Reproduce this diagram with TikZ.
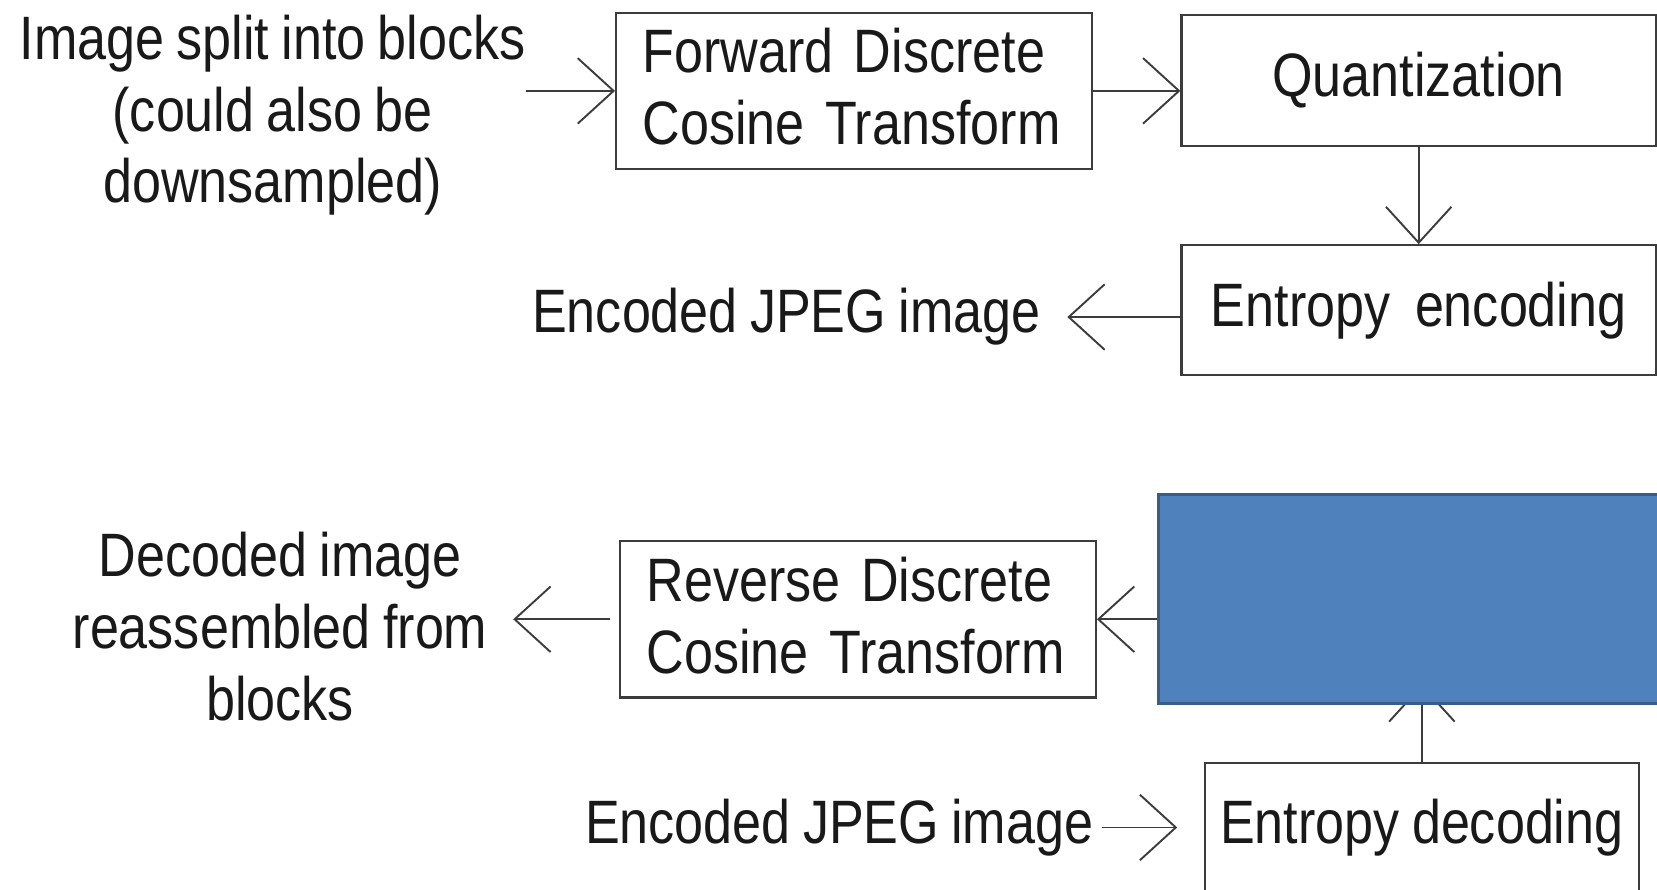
\documentclass[tikz,border=0pt]{standalone}
\usepackage{fontspec}
\setmainfont{Liberation Sans}[FakeStretch=0.85,WordSpace=0.85]
\usetikzlibrary{arrows.meta,backgrounds}

\definecolor{boxblue}{RGB}{79,129,189}
\definecolor{boxblueline}{RGB}{56,93,138}
\definecolor{linegray}{RGB}{60,60,60}

\begin{document}
\begin{tikzpicture}[x=0.5pt,y=-0.5pt]

  \tikzset{VertexStyle/.style = {rectangle, draw = linegray, line width = 1pt,
                                 text = black!90, inner xsep = 12.5pt, inner ysep = 0pt,
                                 minimum width = 225pt, minimum height = 74pt,
                                 font = \fontsize{29pt}{34pt}\selectfont},
           TextStyle/.style   = {inner sep = 0pt, align = center, text = black!90,
                                 font = \fontsize{29pt}{34pt}\selectfont},
           FillStyle/.style   = {rectangle, draw = boxblueline, fill = boxblue,
                                 line width = 1.5pt, minimum width = 270pt,
                                 minimum height = 99pt}}

  \useasboundingbox (0,0) rectangle (1568,842);
  \clip (0,0) rectangle (1568,842);

%%% encoder (top) 

   \node[TextStyle] (IN) at (258,109) {Image split into blocks\\(could also be\\downsampled)};
   \node[VertexStyle, text width = 200pt, align = left, text depth = 38pt] (FDCT) at (808,86) {Forward Discrete\\Cosine Transform};
   \node[VertexStyle, minimum width = 224.5pt, minimum height = 62pt] (Q) at (1342.5,76) {Quantization};
   \node[VertexStyle, minimum width = 224.5pt, minimum height = 61.5pt] (EE) at (1342.5,293.5) {Entropy\ \ encoding};
   \node[TextStyle, anchor = east] (OUT) at (985,300) {Encoded JPEG image};

%%% decoder (bottom)

   \node[FillStyle] (B) at (1366,567) {};
   \node[VertexStyle, text width = 200pt, align = left, text depth = 38pt] (RDCT) at (812,586) {Reverse Discrete\\Cosine Transform};
   \node[TextStyle] (DEC) at (265,593) {Decoded image\\reassembled from\\blocks};
   \node[VertexStyle, anchor = north, inner xsep = 5pt, minimum width = 205.5pt, minimum height = 0pt,
         text height = 38pt, text depth = 52pt] (ED) at (1345.5,721) {Entropy decoding};
   \node[TextStyle, anchor = east] (IN2) at (1035,783) {Encoded JPEG image};

  \tikzset{EdgeStyle/.style = {draw = linegray, line width = 0.9pt,
                               -{Straight Barb[length = 17pt, width = 31pt]}}}

   \draw[EdgeStyle] (IN.east |- FDCT.west) -- (FDCT.west);
   \draw[EdgeStyle] (FDCT.east) -- (FDCT.east -| Q.west);
   \draw[EdgeStyle] (Q) -- (EE);
   \draw[EdgeStyle, shorten >= 12.5pt] (EE.west |- OUT.east) -- (OUT.east);

   \draw[EdgeStyle] (B.west |- RDCT.east) -- (RDCT.east);
   \draw[EdgeStyle, shorten <= 4.5pt, shorten >= 12pt] (RDCT.west) -- (DEC.east |- RDCT.west);
   \draw[EdgeStyle, shorten <= 4pt, shorten >= 12.5pt] (IN2.east) -- (IN2.east -| ED.west);
   \begin{scope}[on background layer]
   \draw[EdgeStyle, shorten >= -10pt] (ED.north) -- (ED.north |- B.south);
   \end{scope}

\end{tikzpicture}
\end{document}
